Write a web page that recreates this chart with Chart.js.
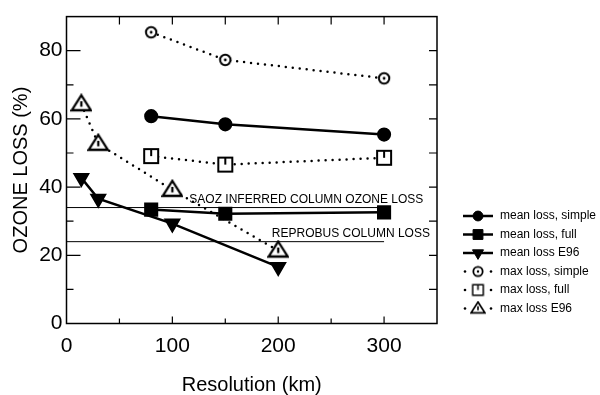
<!DOCTYPE html>
<html>
<head>
<meta charset="utf-8">
<script src="https://cdn.jsdelivr.net/npm/chart.js@4/dist/chart.umd.min.js"></script>
<style>
  html, body { margin: 0; padding: 0; background: #fff; }
  #wrap { width: 600px; height: 395px; }
</style>
</head>
<body>
<div id="wrap"><canvas id="myChart" width="600" height="395"></canvas></div>
<script>
// resolution (km) for each run family
var resModel = [80, 150, 300];
var resE96 = [14, 30, 100, 200];

// ozone loss (%)
var meanSimple = [60.8, 58.4, 55.4];
var meanFull = [33.4, 32.2, 32.6];
var meanE96 = [42.7, 36.6, 29.3, 16.6];
var maxSimple = [85.4, 77.3, 71.9];
var maxFull = [49.1, 46.6, 48.6];
var maxE96 = [64.3, 52.7, 39.2, 21.4];

// reference column losses
var refRes = [0, 300];
var saozLoss = 34;
var reprobusLoss = 24;

var xTicks = [0, 100, 200, 300];
var yTicks = [0, 20, 40, 60, 80];

var FONT = "'Liberation Sans', Arial, sans-serif";

function pts(xs, ys) {
  return xs.map(function (x, i) { return { x: x, y: ys[i] }; });
}

// open markers with the little mark inside, like the scanned figure
function openMarker(kind, k) {
  var c = document.createElement("canvas");
  var s = Math.round(22 * k);
  c.width = s; c.height = s;
  var g = c.getContext("2d");
  var m = s / 2;
  g.strokeStyle = "#000"; g.fillStyle = "#fff"; g.lineWidth = 2 * k;
  if (kind == "circle") {
    g.beginPath(); g.arc(m, m, 5.2 * k, 0, Math.PI * 2); g.fill(); g.stroke();
    g.fillStyle = "#000"; g.beginPath(); g.arc(m, m, 1.4 * k, 0, Math.PI * 2); g.fill();
  } else if (kind == "square") {
    var h = 7 * k;
    g.beginPath(); g.rect(m - h, m - h, 2 * h, 2 * h); g.fill(); g.stroke();
    g.beginPath(); g.moveTo(m, m - h); g.lineTo(m, m); g.stroke();
  } else {
    g.lineWidth = 2.3 * k;
    g.beginPath(); g.moveTo(m, m - 9 * k); g.lineTo(m + 9.5 * k, m + 6 * k); g.lineTo(m - 9.5 * k, m + 6 * k); g.closePath(); g.fill(); g.stroke();
    g.beginPath(); g.moveTo(m, m - 3 * k); g.lineTo(m, m + 2.5 * k); g.stroke();
  }
  return c;
}

var dotted = [0, 7];
var datasets = [
  { label: "mean loss, simple", data: pts(resModel, meanSimple), pointStyle: "circle", pointRadius: 5.8, borderDash: [] },
  { label: "mean loss, full", data: pts(resModel, meanFull), pointStyle: "rect", pointRadius: 8.2, borderDash: [] },
  { label: "mean loss E96", data: pts(resE96, meanE96), pointStyle: "triangle", rotation: 180, pointRadius: 7.5, borderDash: [] },
  { label: "max loss, simple", data: pts(resModel, maxSimple), pointStyle: openMarker("circle", 1), legendStyle: openMarker("circle", 0.9), pointRadius: 6, borderDash: dotted },
  { label: "max loss, full", data: pts(resModel, maxFull), pointStyle: openMarker("square", 1), legendStyle: openMarker("square", 0.75), pointRadius: 6, borderDash: dotted },
  { label: "max loss E96", data: pts(resE96, maxE96), pointStyle: openMarker("triangle", 1), legendStyle: openMarker("triangle", 0.72), pointRadius: 7, borderDash: dotted }
].map(function (d) {
  d.showLine = true;
  d.borderWidth = 2.5;
  d.borderColor = "#000";
  d.backgroundColor = "#000";
  d.pointBorderColor = "#000";
  d.pointBackgroundColor = "#000";
  d.pointRotation = d.rotation || 0;
  d.borderCapStyle = "round";
  d.inLegend = true;
  return d;
});

datasets.unshift(
  { label: "SAOZ", data: pts(refRes, [saozLoss, saozLoss]), showLine: true, borderColor: "#000", borderWidth: 1, pointRadius: 0 },
  { label: "REPROBUS", data: pts(refRes, [reprobusLoss, reprobusLoss]), showLine: true, borderColor: "#000", borderWidth: 1, pointRadius: 0 }
);

var refLabels = [
  { text: "SAOZ INFERRED COLUMN OZONE LOSS", x: 116, y: saozLoss },
  { text: "REPROBUS COLUMN LOSS", x: 194, y: reprobusLoss }
];

var frame = {
  id: "frame",
  afterDatasetsDraw: function (chart) {
    var ctx = chart.ctx, a = chart.chartArea;
    var xs = chart.scales.x, ys = chart.scales.y;
    ctx.save();
    ctx.strokeStyle = "#000";
    ctx.lineWidth = 1.5;
    ctx.strokeRect(a.left, a.top, a.right - a.left, a.bottom - a.top);
    ctx.lineWidth = 1.2;
    ctx.beginPath();
    for (var v = 50; v < xs.max; v += 50) {
      var px = xs.getPixelForValue(v);
      var len = v % 100 == 0 ? 7 : 5;
      ctx.moveTo(px, a.bottom); ctx.lineTo(px, a.bottom - len);
      ctx.moveTo(px, a.top); ctx.lineTo(px, a.top + 8);
    }
    for (var w = 10; w < ys.max; w += 10) {
      var py = ys.getPixelForValue(w);
      var l = w % 20 == 0 ? 14 : 7;
      ctx.moveTo(a.left, py); ctx.lineTo(a.left + l, py);
      ctx.moveTo(a.right, py); ctx.lineTo(a.right - 8, py);
    }
    ctx.stroke();

    ctx.fillStyle = "#000";
    ctx.font = "12px " + FONT;
    ctx.textBaseline = "alphabetic";
    refLabels.forEach(function (r) {
      ctx.fillText(r.text, xs.getPixelForValue(r.x), ys.getPixelForValue(r.y) - 5);
    });

    // legend at the right, built from the datasets
    var y0 = 216;
    chart.data.datasets.filter(function (d) { return d.inLegend; }).forEach(function (d, i) {
      var y = y0 + i * 18.5;
      ctx.strokeStyle = "#000";
      ctx.fillStyle = "#000";
      if (d.borderDash.length) {
        [465, 491].forEach(function (dx) {
          ctx.beginPath(); ctx.arc(dx, y, 1.3, 0, Math.PI * 2); ctx.fill();
        });
      } else {
        ctx.lineWidth = 2.5;
        ctx.beginPath(); ctx.moveTo(463, y); ctx.lineTo(493, y); ctx.stroke();
      }
      ctx.lineWidth = 1;
      Chart.helpers.drawPoint(ctx, { pointStyle: d.legendStyle || d.pointStyle, rotation: d.pointRotation, radius: d.pointRadius * 0.85, borderWidth: 1 }, 478, y);
      ctx.fillStyle = "#000";
      ctx.textBaseline = "middle";
      ctx.fillText(d.label, 500, y);
    });
    ctx.restore();
  }
};

var ctx = document.getElementById("myChart");

new Chart(ctx, {
  type: "scatter",
  data: { datasets: datasets },
  plugins: [frame],
  options: {
    responsive: false,
    animation: false,
    layout: { padding: { top: 15, right: 163, left: 0, bottom: 0 } },
    plugins: { legend: { display: false }, tooltip: { enabled: false } },
    scales: {
      x: {
        type: "linear",
        min: 0, max: 350,
        afterFit: function (s) { s.height = 71.5; },
        afterBuildTicks: function (s) { s.ticks = xTicks.map(function (v) { return { value: v }; }); },
        grid: { display: false, drawTicks: false },
        border: { display: false },
        ticks: { color: "#000", padding: 10, font: { size: 21, family: FONT } },
        title: { display: true, text: "Resolution (km)", color: "#000", padding: { top: 0, bottom: 0 }, font: { size: 20, lineHeight: 1, family: FONT } }
      },
      y: {
        type: "linear",
        min: 0, max: 90,
        afterFit: function (s) { s.width = 66.5; },
        afterBuildTicks: function (s) { s.ticks = yTicks.map(function (v) { return { value: v }; }); },
        grid: { display: false, drawTicks: false },
        border: { display: false },
        ticks: { color: "#000", padding: 4, font: { size: 21, family: FONT } },
        title: { display: true, text: "OZONE LOSS (%)", color: "#000", padding: { top: 11, bottom: 0 }, font: { size: 20, lineHeight: 1, family: FONT } }
      }
    }
  }
});
</script>
</body>
</html>
